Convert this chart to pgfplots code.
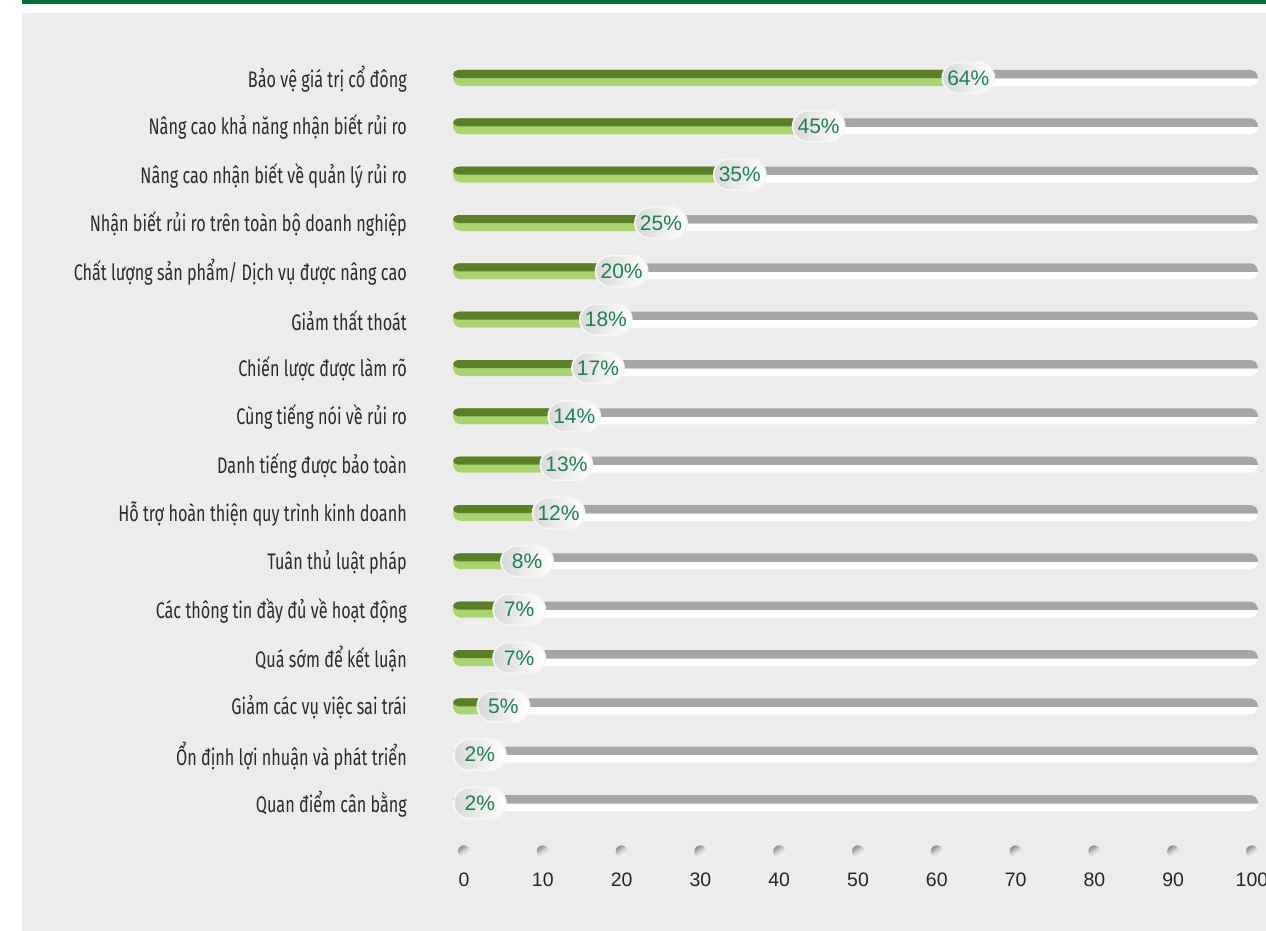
\documentclass[border=0pt]{standalone}
\usepackage{pgfplots}
\pgfplotsset{compat=1.18}
\usepackage{pgfplotstable}
\usepackage{fontspec}
\setmainfont{Liberation Sans}
\newfontfamily\condfont[FakeStretch=0.72]{Fira Sans}
\usetikzlibrary{shapes.misc}

\definecolor{panel}{HTML}{ECECEC}
\definecolor{topgreen}{HTML}{00703C}
\definecolor{dgreen}{HTML}{5B7F29}
\definecolor{lgreen}{HTML}{A9D46F}
\definecolor{track}{HTML}{A6A6A6}
\definecolor{pcttext}{HTML}{1F8050}
\definecolor{labeltext}{HTML}{2B2B2B}

% track: grey top half, white bottom half
\pgfdeclareverticalshading{trackbar}{100bp}{color(0bp)=(white); color(49.9bp)=(white); color(50.1bp)=(track); color(100bp)=(track)}

\pgfplotstableread{
row value
0 64
1 45
2 35
3 25
4 20
5 18
6 17
7 14
8 13
9 12
10 8
11 7
12 7
13 5
14 2
15 2
}\benefits

\begin{document}
\begin{tikzpicture}
\path[use as bounding box, fill=white] (0,0) rectangle (1266bp,931bp);
\fill[panel] (22bp,0) rectangle (1266bp,918bp);
\fill[topgreen] (22bp,926.5bp) rectangle (1266bp,931bp);

\begin{axis}[
    at={(464bp,128bp)}, anchor=south west,
    scale only axis, width=788bp, height=725bp,
    xmin=0, xmax=100, ymin=0, ymax=15, y dir=reverse,
    clip=false,
    axis line style={draw=none},
    major tick length=0pt,
    xtick={0,10,...,100},
    ytick={0,...,15},
    yticklabels={
        Bảo vệ giá trị cổ đông,
        Nâng cao khả năng nhận biết rủi ro,
        Nâng cao nhận biết về quản lý rủi ro,
        Nhận biết rủi ro trên toàn bộ doanh nghiệp,
        Chất lượng sản phẩm/ Dịch vụ được nâng cao,
        Giảm thất thoát,
        Chiến lược được làm rõ,
        Cùng tiếng nói về rủi ro,
        Danh tiếng được bảo toàn,
        Hỗ trợ hoàn thiện quy trình kinh doanh,
        Tuân thủ luật pháp,
        Các thông tin đầy đủ về hoạt động,
        Quá sớm để kết luận,
        Giảm các vụ việc sai trái,
        Ổn định lợi nhuận và phát triển,
        Quan điểm cân bằng},
    yticklabel style={font=\condfont\fontsize{22.5bp}{25bp}\selectfont, text=labeltext,
        anchor=east, inner sep=0pt, xshift=-57bp, yshift=-1bp},
    xticklabel style={font=\fontsize{19.5bp}{22bp}\selectfont, text=black!85,
        anchor=north, inner sep=0pt, yshift=-70bp},
    /pgf/number format/assume math mode=true,
]
% full-length tracks
\pgfplotsinvokeforeach{0,...,15}{
    \shade[shading=trackbar, rounded corners=8bp]
        ([xshift=-11bp,yshift=8bp]axis cs:0,#1) rectangle ([xshift=6bp,yshift=-8bp]axis cs:100,#1);
}
% green bars: light full pill, dark upper half on top
\addplot[xbar, bar width=16bp, draw=none, fill=lgreen,
    rounded corners=8bp, xshift=-11bp]
    table[x=value, y=row] {\benefits};
\addplot[xbar, bar width=8bp, draw=none, fill=dgreen,
    rounded corners=5bp, xshift=-11bp, yshift=4bp]
    table[x=value, y=row] {\benefits};
% value bubbles
\addplot[draw=none, mark=none, point meta=x,
    nodes near coords={\pgfmathprintnumber{\pgfplotspointmeta}\%},
    every node near coord/.style={anchor=center, rounded rectangle,
        minimum width=52bp, minimum height=31bp, inner sep=0pt,
        left color=black!15, right color=white, draw=white!96!black, line width=1.8bp,
        text=pcttext, font=\fontsize{21bp}{23bp}\selectfont}]
    table[x=value, y=row] {\benefits};
% tick dots
\addplot[draw=none, mark=none, nodes near coords={},
    every node near coord/.style={anchor=center, circle, minimum size=12bp, inner sep=0pt,
        top color=black!45, bottom color=white, middle color=black!15, shading angle=35}]
    coordinates {(0,16) (10,16) (20,16) (30,16) (40,16) (50,16) (60,16) (70,16) (80,16) (90,16) (100,16)};
\end{axis}
\end{tikzpicture}
\end{document}
